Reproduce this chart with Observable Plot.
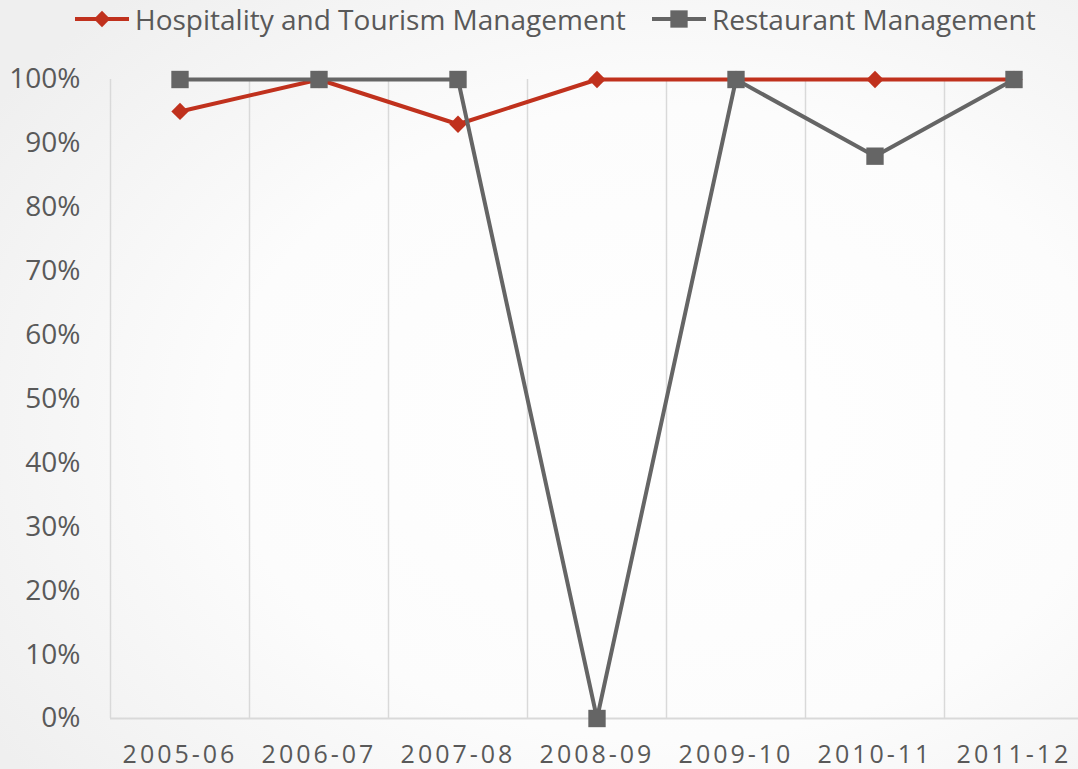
<!DOCTYPE html>
<html><head><meta charset="utf-8">
<script src="https://cdn.jsdelivr.net/npm/d3@7"></script>
<script src="https://cdn.jsdelivr.net/npm/@observablehq/plot@0.6"></script>
<style>
html,body{margin:0;padding:0;}
body{width:1078px;height:769px;overflow:hidden;position:relative;
  background: radial-gradient(ellipse 75% 75% at 62% 55%, #ffffff 0%, #fcfcfc 55%, #efefef 100%);
  font-family:"Open Sans",sans-serif;}
#chart{position:absolute;left:0;top:0;}
#legend{position:absolute;top:0;left:0;width:1078px;height:40px;}
.item{position:absolute;top:0;height:38px;display:flex;align-items:center;font-size:28px;color:#595959;white-space:nowrap;}
.item svg{margin-right:6px;}
g[aria-label="x-axis tick label"] text{letter-spacing:3px;}
</style></head><body>
<div id="chart"></div>
<div id="legend"></div>
<script>
const categories = ["2005-06","2006-07","2007-08","2008-09","2009-10","2010-11","2011-12"];
const hospitality = [95,100,93,100,100,100,100];
const restaurant = [100,100,100,0,100,88,100];
const yTicks = [0,10,20,30,40,50,60,70,80,90,100];
const seriesNames = ["Hospitality and Tourism Management","Restaurant Management"];
const seriesColors = ["#c0311d","#656565"];
const seriesSymbols = ["diamond2","square"];

const rows = categories.flatMap((c,i)=>[
  {cat:c, series:seriesNames[0], v:hospitality[i]/100},
  {cat:c, series:seriesNames[1], v:restaurant[i]/100}
]);
const hRows = rows.filter(d=>d.series===seriesNames[0]);
const rRows = rows.filter(d=>d.series===seriesNames[1]);

const left = 110, step = 139;
const chart = Plot.plot({
  width:1078, height:769,
  marginTop:79, marginBottom:51, marginLeft:left, marginRight:0,
  style:{background:"transparent", fontFamily:"'Open Sans',sans-serif", color:"#595959", overflow:"visible"},
  x:{type:"band", domain:categories, range:[left, left+categories.length*step], padding:0, label:null},
  y:{domain:[0,1], range:[718,79], label:null},
  color:{domain:seriesNames, range:seriesColors},
  marks:[
    Plot.ruleX(categories, {x:d=>d, dx:-step/2, y1:0, y2:1, stroke:"#d9d9d9", strokeWidth:1.5}),
    Plot.ruleY([0], {stroke:"#d9d9d9", strokeWidth:2}),
    Plot.axisY({ticks:yTicks.map(d=>d/100), tickFormat:d=>Math.round(d*100)+"%", tickSize:0, tickPadding:30, fontSize:28, fill:"#595959", label:null}),
    Plot.axisX({tickSize:0, tickPadding:27, fontSize:25, fill:"#595959", label:null}),
    Plot.line(hRows, {x:"cat", y:"v", stroke:"series", strokeWidth:4}),
    Plot.dot(hRows, {x:"cat", y:"v", fill:"series", symbol:()=>seriesSymbols[0], r:7.8, stroke:"none"}),
    Plot.line(rRows, {x:"cat", y:"v", stroke:"series", strokeWidth:4}),
    Plot.dot(rRows, {x:"cat", y:"v", fill:"series", symbol:()=>seriesSymbols[1], r:9.8, stroke:"none"})
  ]
});
document.getElementById("chart").appendChild(chart);

// legend
const legend = d3.select("#legend");
const legendX = [75, 652];
seriesNames.forEach((name,i)=>{
  const item = legend.append("div").attr("class","item").style("left", legendX[i]+"px");
  const s = item.append("svg").attr("width",54).attr("height",38);
  s.append("line").attr("x1",0).attr("x2",54).attr("y1",19).attr("y2",19).attr("stroke",seriesColors[i]).attr("stroke-width",4);
  const sym = i===0 ? d3.symbol(d3.symbolDiamond2, 170) : d3.symbol(d3.symbolSquare, 300);
  s.append("path").attr("d", sym()).attr("transform","translate(27,19)").attr("fill",seriesColors[i]);
  item.append("span").text(name);
});
</script>
</body></html>
